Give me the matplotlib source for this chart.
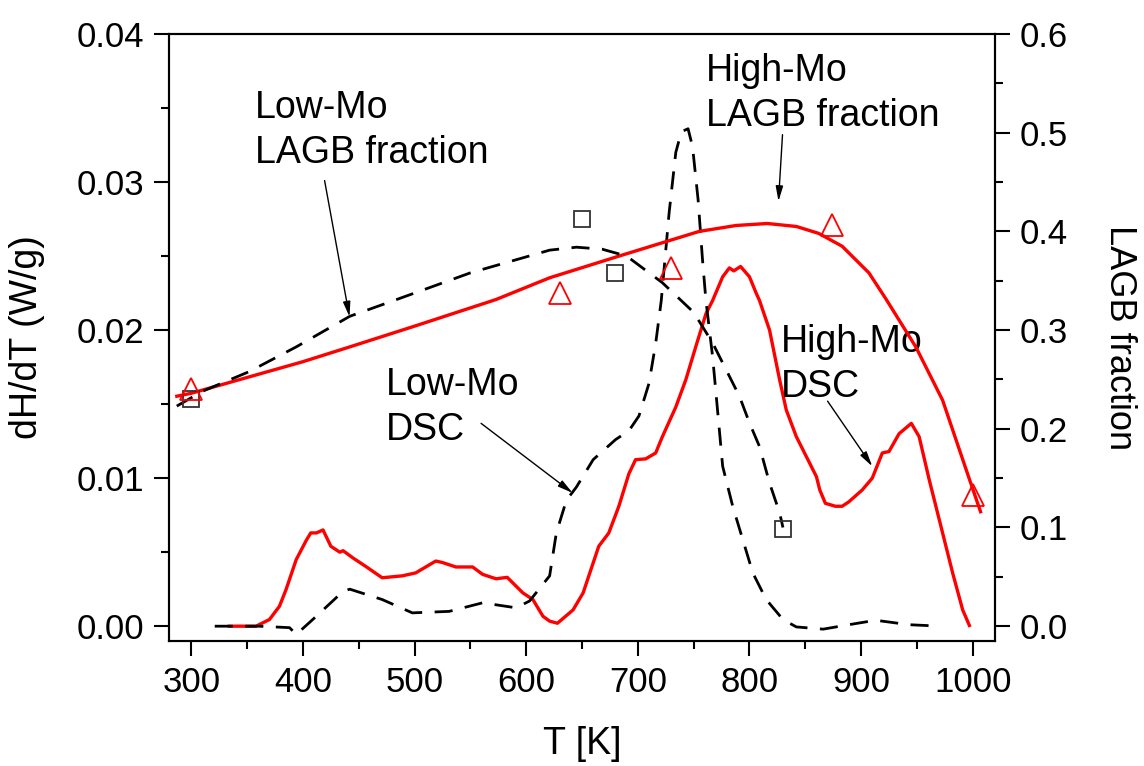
import matplotlib
matplotlib.use('Agg')
import matplotlib.pyplot as plt
from matplotlib.ticker import MultipleLocator, FormatStrFormatter

plt.rcParams['font.family'] = ['Liberation Sans', 'DejaVu Sans']

# DSC curves (left axis, W/g)
t_dsc_low = [321, 361, 388, 394, 412, 436, 442, 471, 498, 531, 561, 591, 603, 621, 627,
             636, 645, 660, 680, 692, 701, 710, 716, 721, 728, 734, 739, 745, 749, 754,
             758, 761, 767, 770, 776, 785, 794, 803, 815, 830, 842, 866, 889, 913, 943, 971]
dsc_low = [0.0, 0.0, -0.0001, -0.00056, 0.00067, 0.00236, 0.0025, 0.0018, 0.0009, 0.001,
           0.00158, 0.00124, 0.0017, 0.0034, 0.0063, 0.0085, 0.0094, 0.01125, 0.0126, 0.0132,
           0.0142, 0.0164, 0.0191, 0.022, 0.0279, 0.032, 0.0334, 0.0336, 0.0324, 0.0288,
           0.0247, 0.022, 0.0182, 0.01575, 0.0108, 0.0081, 0.00585, 0.0036, 0.0018, 0.00045,
           -0.00005, -0.0002, 0.0001, 0.0004, 0.0001, 0.0]

t_dsc_high = [334, 358, 370, 379, 385, 394, 403, 407, 412, 418, 425, 433, 436, 445, 457,
              471, 489, 501, 519, 525, 537, 552, 561, 573, 583, 597, 606, 615, 621, 628,
              642, 651, 665, 674, 683, 692, 698, 707, 716, 722, 734, 743, 752, 761, 767,
              776, 782, 786, 792, 800, 806, 809, 818, 827, 833, 842, 854, 860, 863, 868,
              877, 883, 889, 901, 910, 919, 925, 934, 945, 952, 961, 973, 982, 991, 997]
dsc_high = [0.0, 0.0, 0.00045, 0.00135, 0.0025, 0.0045, 0.0058, 0.0063, 0.0063, 0.0065,
            0.0054, 0.005, 0.0051, 0.0046, 0.004, 0.00327, 0.0034, 0.0036, 0.0044, 0.0043,
            0.004, 0.004, 0.0035, 0.0032, 0.0033, 0.00225, 0.0018, 0.00067, 0.00034, 0.0002,
            0.0011, 0.00225, 0.0054, 0.0063, 0.0081, 0.0103, 0.01125, 0.0113, 0.0117, 0.0128,
            0.0148, 0.01665, 0.0189, 0.0211, 0.022, 0.0236, 0.0242, 0.024, 0.0243, 0.0236,
            0.0225, 0.022, 0.02, 0.01665, 0.0146, 0.0128, 0.011, 0.0101, 0.0092, 0.0083,
            0.0081, 0.0081, 0.0084, 0.0092, 0.01, 0.0117, 0.0118, 0.013, 0.0137, 0.0128,
            0.0099, 0.0063, 0.0036, 0.0011, 0.00005]

# LAGB fraction fits (right axis)
t_lagb_low = [287, 310, 352, 394, 442, 484, 550, 621, 645, 668, 690, 722, 750, 767, 779,
              791, 800, 809, 818, 827, 830]
lagb_low_fit = [0.223, 0.238, 0.258, 0.283, 0.314, 0.331, 0.358, 0.381, 0.384, 0.382,
                0.375, 0.348, 0.318, 0.287, 0.26, 0.233, 0.206, 0.182, 0.145, 0.115, 0.1]

t_lagb_high = [287, 300, 350, 400, 442, 500, 573, 621, 686, 755, 788, 816, 842, 862, 883,
               907, 922, 949, 973, 997, 1007]
lagb_high_fit = [0.233, 0.236, 0.252, 0.268, 0.283, 0.304, 0.331, 0.353, 0.376, 0.400,
                 0.406, 0.408, 0.405, 0.398, 0.385, 0.358, 0.332, 0.283, 0.229, 0.149, 0.116]

# measured LAGB fractions
t_meas_low = [300, 650, 680, 830]
lagb_meas_low = [0.23, 0.413, 0.358, 0.098]
t_meas_high = [300, 630, 730, 874, 1000]
lagb_meas_high = [0.24, 0.338, 0.363, 0.406, 0.133]

fig = plt.figure(figsize=(11.44, 7.66), dpi=100)
ax = fig.add_subplot(111)
fig.subplots_adjust(left=0.1477, right=0.8698, bottom=0.1632, top=0.9556)
ax2 = ax.twinx()

red = '#ff0000'
dash = (0, (6.5, 4.5))

ax.plot(t_dsc_high, dsc_high, color=red, lw=2.4)
ax.plot(t_dsc_low, dsc_low, color='black', lw=2, linestyle=dash)

ax2.plot(t_lagb_high, lagb_high_fit, color=red, lw=2.4)
ax2.plot(t_lagb_low, lagb_low_fit, color='black', lw=2, linestyle=dash)
ax2.plot(t_meas_low, lagb_meas_low, linestyle='none', marker='s', ms=12,
         mfc='none', mec='#333333', mew=1.3)
ax2.plot(t_meas_high, lagb_meas_high, linestyle='none', marker='^', ms=16,
         mfc='none', mec=red, mew=1.3)

ax.set_xlim(280, 1020)
ax.set_ylim(-0.001, 0.04)
ax2.set_ylim(-0.015, 0.6)

ax.xaxis.set_major_locator(MultipleLocator(100))
ax.xaxis.set_minor_locator(MultipleLocator(50))
ax.yaxis.set_major_locator(MultipleLocator(0.01))
ax.yaxis.set_minor_locator(MultipleLocator(0.005))
ax.yaxis.set_major_formatter(FormatStrFormatter('%.2f'))
ax2.yaxis.set_major_locator(MultipleLocator(0.1))
ax2.yaxis.set_minor_locator(MultipleLocator(0.05))
ax2.yaxis.set_major_formatter(FormatStrFormatter('%.1f'))

for a in (ax, ax2):
    a.tick_params(which='major', direction='out', length=11, width=1.5, labelsize=25, pad=7)
    a.tick_params(which='minor', direction='out', length=6, width=1.5)
    for s in a.spines.values():
        s.set_linewidth(1.5)
ax.tick_params(top=False, which='both')

ax.set_xlabel('T [K]', fontsize=27)
ax.set_ylabel('dH/dT (W/g)', fontsize=27)
ax2.set_ylabel('LAGB fraction', fontsize=26, rotation=270, va='bottom')
ax.xaxis.set_label_coords(0.5, -0.140)
ax.yaxis.set_label_coords(-0.150, 0.5)
ax2.yaxis.set_label_coords(1.1295, 0.5)

arrow = dict(arrowstyle='-|>,head_length=0.9,head_width=0.22', color='black', lw=1,
             shrinkA=0, shrinkB=0)
txt = dict(fontsize=27, va='top', ha='left', linespacing=1.3)
ax.text(356.7, 0.0362, 'Low-Mo\nLAGB fraction', **txt)
ax.annotate('', xy=(441.7, 0.0209), xytext=(419.4, 0.0301), arrowprops=arrow)
ax.text(761.4, 0.0387, 'High-Mo\nLAGB fraction', **txt)
ax.annotate('', xy=(826, 0.0287), xytext=(829.6, 0.0332), arrowprops=arrow)
ax.text(474.6, 0.0175, 'Low-Mo\nDSC', **txt)
ax.annotate('', xy=(641.6, 0.0090), xytext=(559.6, 0.0137), arrowprops=arrow)
ax.text(828.2, 0.0204, 'High-Mo\nDSC', **txt)
ax.annotate('', xy=(910, 0.0108), xytext=(870, 0.0152), arrowprops=arrow)

fig.savefig('out.png', dpi=100)
